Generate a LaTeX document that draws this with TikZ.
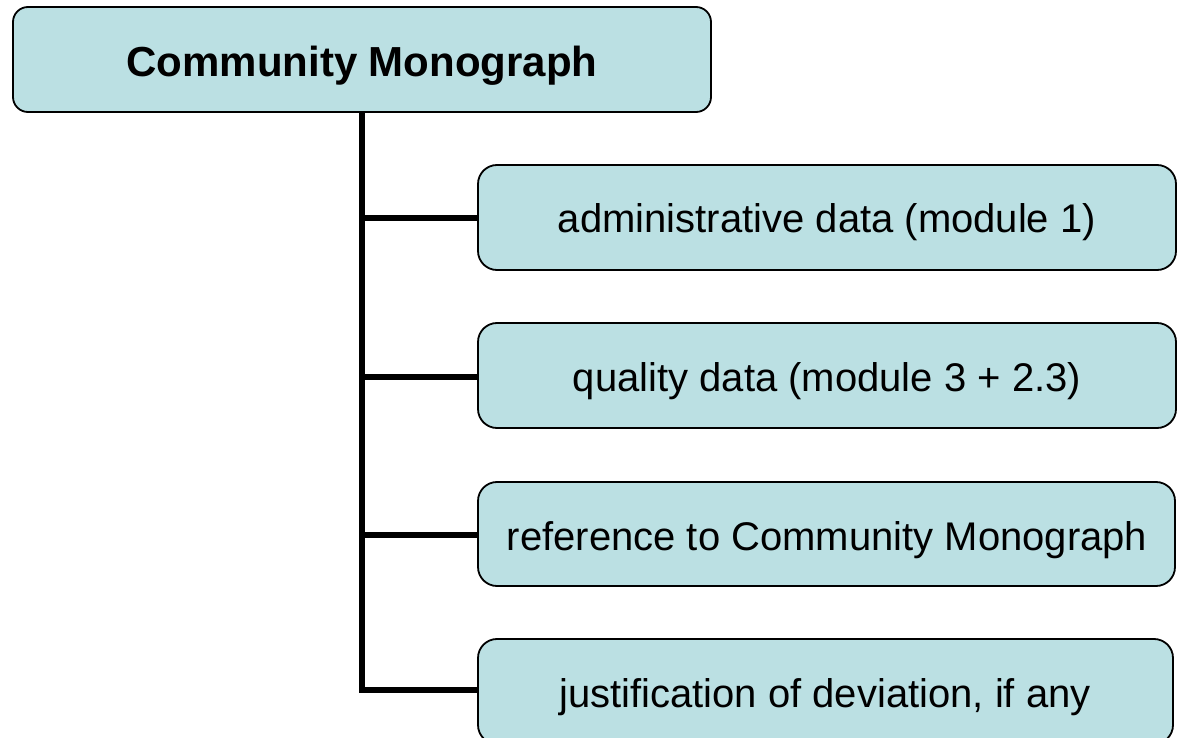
\documentclass[tikz,border=0pt]{standalone}
\usepackage{fontspec}
\setmainfont{Liberation Sans}
\definecolor{boxfill}{HTML}{BBE0E3}
\begin{document}
\begin{tikzpicture}[x=1pt,y=-1pt,
  topbox/.style={draw=black,line width=1.8pt,fill=boxfill,rounded corners=15pt},
  childbox/.style={draw=black,line width=1.8pt,fill=boxfill,rounded corners=19pt},
  conn/.style={line width=6pt,line cap=rect,line join=miter},
  titletext/.style={font=\fontsize{42}{48}\selectfont\bfseries,inner sep=0pt,anchor=base},
  childtext/.style={font=\fontsize{40}{46}\selectfont,inner sep=0pt,anchor=base}]
\useasboundingbox (0,0) rectangle (1179,738);
\clip (0,0) rectangle (1179,738);
% connectors (drawn first, under the boxes)
\coordinate (trunktop) at (362,112);
\coordinate (j1) at (362,218);
\coordinate (j2) at (362,377);
\coordinate (j3) at (362,535);
\coordinate (j4) at (362,690);
\coordinate (c1) at (478,218);
\coordinate (c2) at (478,377);
\coordinate (c3) at (478,535);
\coordinate (c4) at (478,690);
\draw[conn] (trunktop) -- (j4) -- (c4);
\draw[conn,line cap=butt] (j1) -- (c1);
\draw[conn,line cap=butt] (j2) -- (c2);
\draw[conn,line cap=butt] (j3) -- (c3);
% boxes
\draw[topbox] (13,7) rectangle (711,112);
\node[titletext] (title) at (362,77) {Community Monograph};
\draw[childbox] (478,165) rectangle (1176,270);
\node[childtext] (n1) at (827,233) {administrative data (module 1)};
\draw[childbox] (478,323) rectangle (1176,428);
\node[childtext] (n2) at (827,391) {quality data (module 3 + 2.3)};
\draw[childbox] (478,482) rectangle (1175,586);
\node[childtext] (n3) at (827,550) {reference to Community Monograph};
\draw[childbox] (478,639) rectangle (1173,744);
\node[childtext] (n4) at (825,707) {justification of deviation, if any};
\end{tikzpicture}
\end{document}
